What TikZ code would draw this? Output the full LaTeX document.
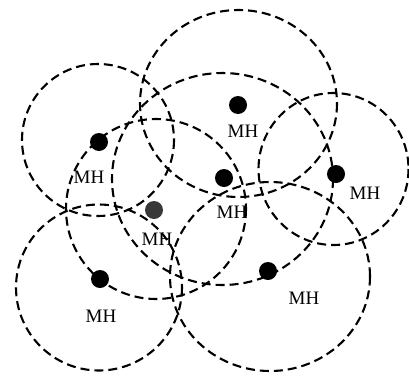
\documentclass[tikz,border=0pt]{standalone}
\usepackage{fontspec}
\setmainfont{Liberation Serif}
\begin{document}
\begin{tikzpicture}[x=1pt,y=-1pt,
  coverage/.style={draw=black,line width=2.1pt,dash pattern=on 9pt off 5pt},
  host/.style={circle,fill=black,inner sep=0pt,minimum size=18pt},
  grayhost/.style={circle,fill=black!78,inner sep=0pt,minimum size=18pt},
  lab/.style={inner sep=0pt,font=\fontsize{19}{22}\selectfont}]
\useasboundingbox (0,0) rectangle (409,375);
% ranges
\draw[coverage] (98,140) circle (76);
\draw[coverage] (238.5,103.5) ellipse [x radius=98.5, y radius=93.5];
\draw[coverage] (222.5,179) ellipse [x radius=110.5, y radius=106];
\draw[coverage] (333.5,169) ellipse [x radius=75, y radius=76];
\draw[coverage] (156,209) circle (90);
\draw[coverage] (99,287.5) circle (83);
\draw[coverage] (270,276.5) ellipse [x radius=100, y radius=94.5];
% hosts
\node[host] (h1) at (99,142) {};
\node[host] (h2) at (238,105) {};
\node[host] (h3) at (224,178) {};
\node[host] (h4) at (336,174) {};
\node[grayhost] (h5) at (154,210) {};
\node[host] (h6) at (100,279) {};
\node[host] (h7) at (268,271) {};
% labels
\node[lab] (l1) at (89,177) {MH};
\node[lab] (l2) at (243,131) {MH};
\node[lab] (l3) at (232,212) {MH};
\node[lab] (l4) at (365,193) {MH};
\node[lab] (l5) at (157,239) {MH};
\node[lab] (l6) at (101,316) {MH};
\node[lab] (l7) at (304,298) {MH};
\end{tikzpicture}
\end{document}
